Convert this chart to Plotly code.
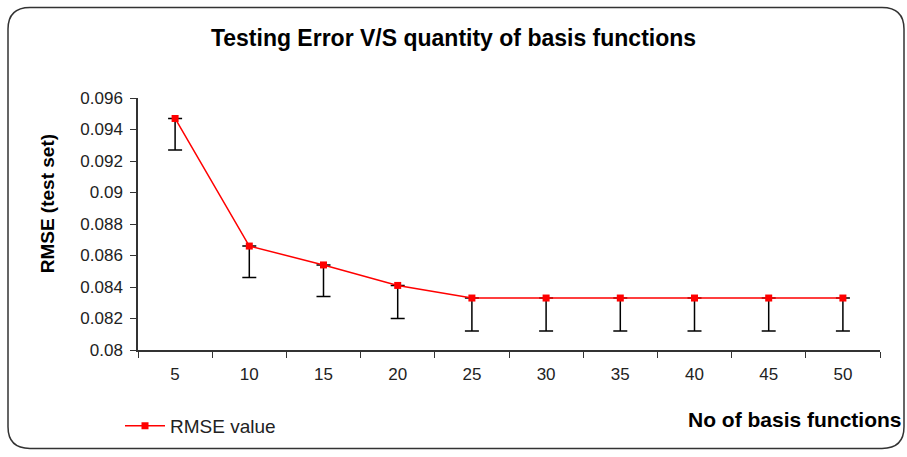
import plotly.graph_objects as go

categories = ["5", "10", "15", "20", "25", "30", "35", "40", "45", "50"]
rmse = [0.0947, 0.0866, 0.0854, 0.0841, 0.0833, 0.0833, 0.0833, 0.0833, 0.0833, 0.0833]
err_minus = [0.0020, 0.0020, 0.0020, 0.0021, 0.0021, 0.0021, 0.0021, 0.0021, 0.0021, 0.0021]
err_plus = [0] * len(categories)
y_ticks = [0.08, 0.082, 0.084, 0.086, 0.088, 0.09, 0.092, 0.094, 0.096]
y_tick_text = ["0.08", "0.082", "0.084", "0.086", "0.088", "0.09", "0.092", "0.094", "0.096"]

W, H = 907, 457
L, R, T, B = 138, 27, 98, 103
pw, ph = W - L - R, H - T - B

def px(x):
    return (x - L) / pw

def py(y):
    return (H - B - y) / ph

fig = go.Figure()
fig.add_trace(go.Scatter(
    x=categories, y=rmse, mode="lines+markers", name="RMSE value",
    line=dict(color="#ff0000", width=1.5),
    marker=dict(symbol="square", size=7, color="#ff0000"),
    error_y=dict(type="data", array=err_plus, arrayminus=err_minus,
                 color="#000000", thickness=1.5, width=7, symmetric=False),
))

# rounded frame
x0, x1, y0, y1 = px(8), px(904), py(6), py(454)
rx, ry = 22 / pw, 22 / ph
path = (f"M {x0+rx},{y0} L {x1-rx},{y0} Q {x1},{y0} {x1},{y0-ry} "
        f"L {x1},{y1+ry} Q {x1},{y1} {x1-rx},{y1} L {x0+rx},{y1} "
        f"Q {x0},{y1} {x0},{y1+ry} L {x0},{y0-ry} Q {x0},{y0} {x0+rx},{y0} Z")
fig.add_shape(type="path", path=path, xref="paper", yref="paper",
              line=dict(color="#333333", width=1.5), layer="below")

fig.update_layout(
    width=W, height=H,
    margin=dict(l=L, r=R, t=T, b=B),
    paper_bgcolor="white", plot_bgcolor="white",
    font=dict(family="Liberation Sans, Arial, sans-serif", color="#222222"),
    title=dict(text="<b>Testing Error V/S quantity of basis functions</b>",
               x=0.5, xanchor="center", y=1 - 38 / H, yanchor="middle",
               font=dict(size=23, color="#000000")),
    xaxis=dict(type="category", range=[-0.5, 9.5], tickson="boundaries",
               showline=True, linecolor="#333333", linewidth=1.5,
               ticks="outside", ticklen=6, tickcolor="#333333",
               ticklabelstandoff=8,
               tickfont=dict(size=17), showgrid=False, zeroline=False),
    yaxis=dict(range=[0.08, 0.096], tickvals=y_ticks, ticktext=y_tick_text,
               showline=True, linecolor="#333333", linewidth=1.5,
               ticks="outside", ticklen=6, tickcolor="#333333",
               ticklabelstandoff=4,
               tickfont=dict(size=17), showgrid=False, zeroline=False),
    showlegend=True,
    legend=dict(x=px(120), y=py(431), xanchor="left", yanchor="middle",
                itemwidth=40,
                font=dict(size=19), bgcolor="rgba(0,0,0,0)"),
)
fig.add_annotation(text="<b>RMSE (test set)</b>", xref="paper", yref="paper",
                   x=px(47), y=py(206), xanchor="center", yanchor="middle",
                   textangle=-90, showarrow=False, font=dict(size=19, color="#000000"))
fig.add_annotation(text="<b>No of basis functions</b>", xref="paper", yref="paper",
                   x=px(904), y=py(425), xanchor="right", yanchor="middle",
                   showarrow=False, font=dict(size=21, color="#000000"))

fig.write_html("out.html", config={"displayModeBar": False},
               post_script="document.body.style.margin='0';document.body.style.overflow='hidden';")
